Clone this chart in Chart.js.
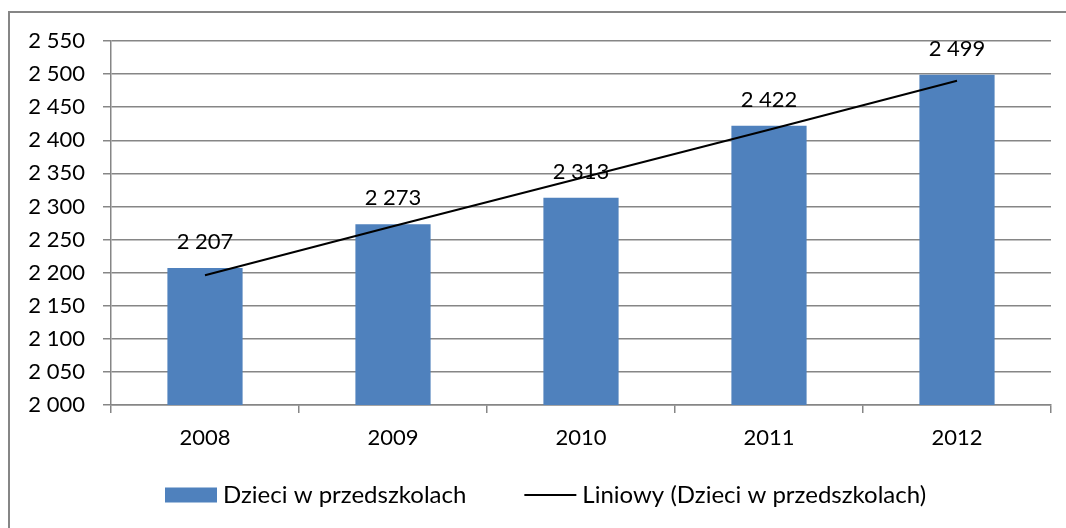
<!DOCTYPE html>
<html>
<head>
<meta charset="utf-8">
<script src="https://cdn.jsdelivr.net/npm/chart.js@4"></script>
<style>
  html, body { margin:0; padding:0; background:#fff; }
  #wrap { width:1066px; height:528px; position:relative; }
</style>
</head>
<body>
<div id="wrap"><canvas id="chart" width="1066" height="528"></canvas></div>
<script>
const years = ['2008', '2009', '2010', '2011', '2012'];
const children = [2207, 2273, 2313, 2422, 2499];
// trend line
const trend = [2196, 2270, 2343, 2416, 2490];
const yMin = 2000, yMax = 2550, yStep = 50;

const FONT = 'Lato';
const gridGray = '#868686';

function fmt(v){ return String(v).replace(/\B(?=(\d{3})+(?!\d))/g, ' '); }

// outer frame
const framePlugin = {
    id: 'frame',
    beforeDraw(chart){
        const c = chart.ctx;
        c.save();
        c.fillStyle = '#fff';
        c.fillRect(0, 0, chart.width, chart.height);
        c.strokeStyle = gridGray;
        c.lineWidth = 2;
        c.strokeRect(9, 12, chart.width + 20, chart.height + 20);
        c.restore();
    }
};

// value labels above bars (drawn right after the bars, so the trend line goes over)
const barLabels = {
    id: 'barLabels',
    afterDatasetDraw(chart, args){
        if(args.index !== 0) return;
        const c = chart.ctx;
        c.save();
        c.font = '22px ' + FONT;
        c.fillStyle = '#000';
        c.textAlign = 'center';
        c.textBaseline = 'middle';
        args.meta.data.forEach((bar, i) => {
            c.fillText(fmt(children[i]), bar.x, bar.y - 26);
        });
        c.restore();
    }
};

// legend under the axis, Excel style
const bottomLegend = {
    id: 'bottomLegend',
    afterDraw(chart){
        const c = chart.ctx;
        const ds = chart.data.datasets;
        const y = 495, sw = 52, gap = 6, itemGap = 58;
        c.save();
        c.font = '24px ' + FONT;
        c.textBaseline = 'middle';
        let x = 165;
        ds.forEach(d => {
            if((d.type || 'bar') === 'bar'){
                c.fillStyle = d.backgroundColor;
                c.fillRect(x, y - 7.5, sw, 15);
            } else {
                c.strokeStyle = d.borderColor;
                c.lineWidth = d.borderWidth;
                c.beginPath(); c.moveTo(x, y); c.lineTo(x + sw, y); c.stroke();
            }
            x += sw + gap;
            c.fillStyle = '#000';
            c.fillText(d.label, x, y);
            x += c.measureText(d.label).width + itemGap;
        });
        c.restore();
    }
};

new Chart(document.getElementById('chart'), {
    type: 'bar',
    data: {
        labels: years,
        datasets: [
            { label: 'Dzieci w przedszkolach', data: children, backgroundColor: '#4F81BD', borderWidth: 0,
              barPercentage: 0.4, categoryPercentage: 1, order: 2 },
            { type: 'line', label: 'Liniowy (Dzieci w przedszkolach)', data: trend, borderColor: '#000',
              backgroundColor: '#000', borderWidth: 2, pointRadius: 0, tension: 0, order: 1 }
        ]
    },
    options: {
        responsive: false,
        animation: false,
        layout: { padding: { top: 41, left: 0, right: 15, bottom: 71 } },
        plugins: {
            tooltip: { enabled: false },
            legend: { display: false }
        },
        scales: {
            x: {
                offset: true,
                grid: { offset: true, drawOnChartArea: false, drawTicks: true, tickLength: 8, color: gridGray, lineWidth: 1.5 },
                border: { color: gridGray, width: 1.5 },
                ticks: { color: '#000', font: { family: FONT, size: 22 }, padding: 12 },
                afterFit: s => { s.height = 52; }
            },
            y: {
                min: yMin, max: yMax,
                grid: { color: gridGray, lineWidth: 1.5, tickLength: 8 },
                border: { color: gridGray, width: 1.5 },
                ticks: { stepSize: yStep, color: '#000', font: { family: FONT, size: 22 }, padding: 18, callback: v => fmt(v) },
                afterFit: s => { s.width = 111; }
            }
        }
    },
    plugins: [framePlugin, barLabels, bottomLegend]
});
</script>
</body>
</html>
